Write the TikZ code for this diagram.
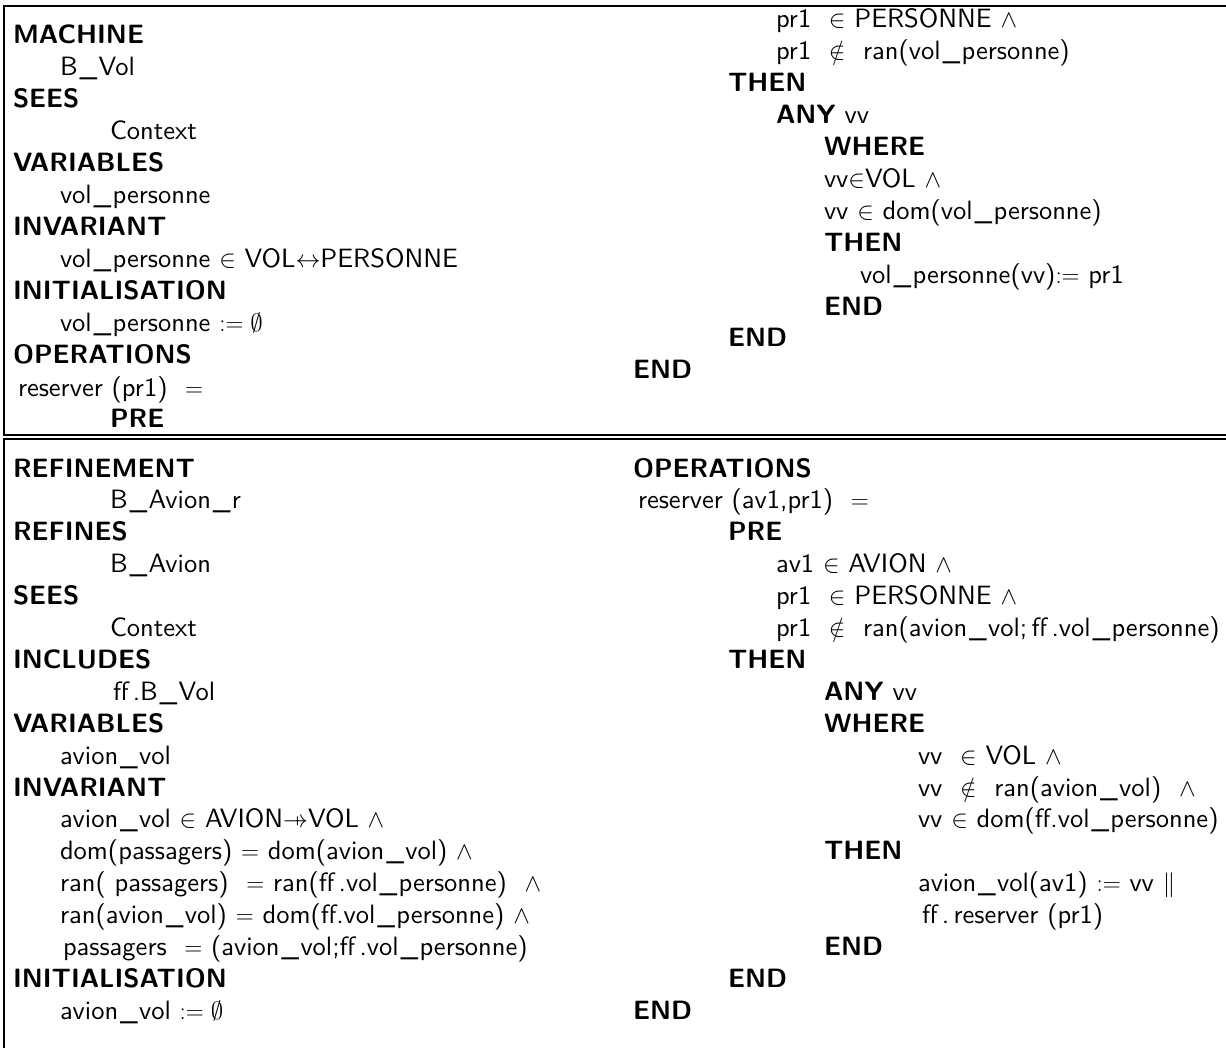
\documentclass[tikz,border=0pt]{standalone}
\usepackage{amssymb}
\usepackage{fontspec}
% the 10pt design of Latin Modern Sans, scaled up
\setsansfont{lmsans10-regular.otf}[BoldFont=lmsans10-bold.otf]
% partial function arrow: a right arrow crossed by a small bar
\newcommand\pfunarrow{\mathrel{\ooalign{$\rightarrow$\cr\hfil$\mapstochar$\hfil\cr}}}
% spaced underscore used in identifiers
\newcommand\us{\kern.07em\_\kern.05em}
\begin{document}
\begin{tikzpicture}[x=1pt,y=-1pt,
  txt/.style={anchor=base west,inner sep=0pt,outer sep=0pt,
              font=\fontsize{26.5}{32}\selectfont\sffamily},
  kw/.style={txt,font=\fontsize{26.5}{32}\selectfont\sffamily\bfseries},
  rule/.style={line width=1.8pt,line join=miter}]
\useasboundingbox (0,0) rectangle (1226,1048);

% frame: top rule, left rule and the double rule between the two rows
\draw[rule] (1226,6) -- (4.2,6) -- (4.2,435) -- (1226,435);
\draw[rule] (4.2,1048) -- (4.2,438.7) -- (1226,438.7);

% ---------- machine B_Vol, left column ----------
\node[kw]  (m0)  at (13,44)   {MACHINE};
\node[txt] (m1)  at (60,76)   {B\us Vol};
\node[kw]  (m2)  at (13,108)  {SEES};
\node[txt] (m3)  at (110,140) {Context};
\node[kw]  (m4)  at (13,172)  {VARIABLES};
\node[txt] (m5)  at (60,204)  {vol\us personne};
\node[kw]  (m6)  at (13,236)  {INVARIANT};
\node[txt] (m7)  at (60,268)  {vol\us personne $\in$ VOL$\leftrightarrow$PERSONNE};
\node[kw]  (m8)  at (13,300)  {INITIALISATION};
\node[txt] (m9)  at (60,332)  {vol\us personne $:=\emptyset$};
\node[kw]  (m10) at (13,364)  {OPERATIONS};
\node[txt] (m11) at (18,396)  {reserver (pr1) \ $=$};
\node[kw]  (m12) at (110,428) {PRE};

% ---------- machine B_Vol, right column ----------
\node[txt] (o0)  at (776,28)    {pr1 \ $\in$ PERSONNE $\wedge$};
\node[txt] (o1)  at (776,59.9)  {pr1 \ $\notin$ \ ran(vol\us personne)};
\node[kw]  (o2)  at (728,91.8)  {THEN};
\node[txt] (o3)  at (776,123.7) {\textbf{ANY} vv};
\node[kw]  (o4)  at (824,155.6) {WHERE};
\node[txt] (o5)  at (824,187.5) {vv$\in$VOL $\wedge$};
\node[txt] (o6)  at (824,219.4) {vv $\in$ dom(vol\us personne)};
\node[kw]  (o7)  at (824,251.3) {THEN};
\node[txt] (o8)  at (860,283.2) {vol\us personne(vv)$:=$ pr1};
\node[kw]  (o9)  at (824,315.1) {END};
\node[kw]  (o10) at (728,347)   {END};
\node[kw]  (o11) at (633,378.9) {END};

% ---------- refinement B_Avion_r, left column ----------
\node[kw]  (r0)  at (13,477)    {REFINEMENT};
\node[txt] (r1)  at (110,508.9) {B\us Avion\us r};
\node[kw]  (r2)  at (13,540.8)  {REFINES};
\node[txt] (r3)  at (110,572.7) {B\us Avion};
\node[kw]  (r4)  at (13,604.6)  {SEES};
\node[txt] (r5)  at (110,636.5) {Context};
\node[kw]  (r6)  at (13,668.4)  {INCLUDES};
\node[txt] (r7)  at (113,700.3) {ff\,.B\us Vol};
\node[kw]  (r8)  at (13,732.2)  {VARIABLES};
\node[txt] (r9)  at (60,764.1)  {avion\us vol};
\node[kw]  (r10) at (13,796)    {INVARIANT};
\node[txt] (r11) at (60,827.9)  {avion\us vol $\in$ AVION$\pfunarrow$VOL $\wedge$};
\node[txt] (r12) at (60,859.8)  {dom(passagers) $=$ dom(avion\us vol) $\wedge$};
\node[txt] (r13) at (60,891.7)  {ran( passagers) \ $=$ ran(ff\,.vol\us personne) \ $\wedge$};
\node[txt] (r14) at (60,923.6)  {ran(avion\us vol) $=$ dom(ff.vol\us personne) $\wedge$};
\node[txt] (r15) at (63,955.5)  {passagers \ $=$ (avion\us vol;ff\,.vol\us personne)};
\node[kw]  (r16) at (13,987.4)  {INITIALISATION};
\node[txt] (r17) at (60,1019.3) {avion\us vol $:=\emptyset$};

% ---------- refinement B_Avion_r, right column ----------
\node[kw]  (s0)  at (633,477)    {OPERATIONS};
\node[txt] (s1)  at (638,508.9)  {reserver (av1,pr1) \ $=$};
\node[kw]  (s2)  at (728,540.8)  {PRE};
\node[txt] (s3)  at (776,572.7)  {av1 $\in$ AVION $\wedge$};
\node[txt] (s4)  at (776,604.6)  {pr1 \ $\in$ PERSONNE $\wedge$};
\node[txt] (s5)  at (776,636.5)  {pr1 \ $\notin$ \ ran(avion\us vol;\,ff\,.vol\us personne)};
\node[kw]  (s6)  at (728,668.4)  {THEN};
\node[txt] (s7)  at (824,700.3)  {\textbf{ANY} vv};
\node[kw]  (s8)  at (824,732.2)  {WHERE};
\node[txt] (s9)  at (918,764.1)  {vv \ $\in$ VOL $\wedge$};
\node[txt] (s10) at (918,796)    {vv \ $\notin$ \ ran(avion\us vol) \ $\wedge$};
\node[txt] (s11) at (918,827.9)  {vv $\in$ dom(ff.vol\us personne)};
\node[kw]  (s12) at (824,859.8)  {THEN};
\node[txt] (s13) at (918,891.7)  {avion\us vol(av1) $:=$ vv $\|$};
\node[txt] (s14) at (922,923.6)  {ff\,.\,reserver (pr1)};
\node[kw]  (s15) at (824,955.5)  {END};
\node[kw]  (s16) at (728,987.4)  {END};
\node[kw]  (s17) at (633,1019.3) {END};
\end{tikzpicture}
\end{document}
